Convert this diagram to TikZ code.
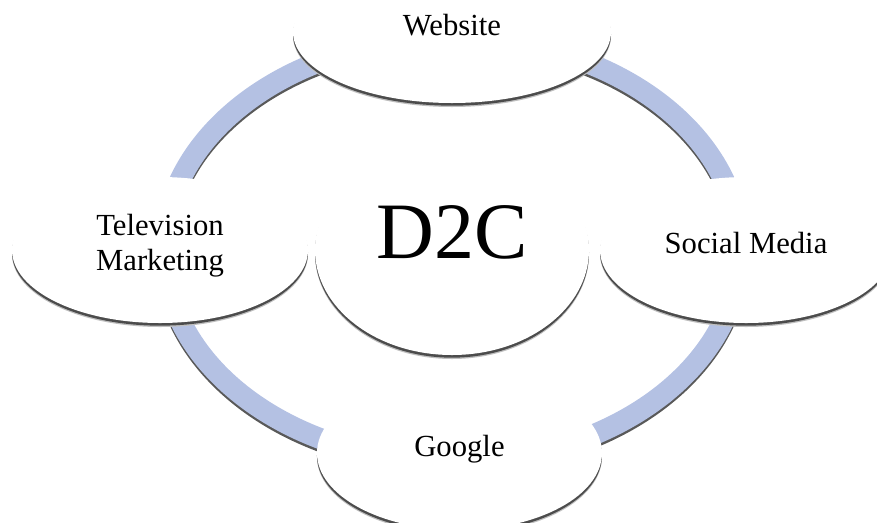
\documentclass[tikz,border=0pt]{standalone}
\usepackage{fontspec}
\setmainfont{Liberation Serif}
\usepackage{xcolor}
\usepackage{tikz}
\usetikzlibrary{positioning,shapes.geometric,shadows}

\definecolor{ringblue}{RGB}{180,193,227}

\tikzset{
  bubble/.style={ellipse, fill=white, inner sep=0pt,
    drop shadow={shadow xshift=0pt, shadow yshift=-3pt, fill=black!25, opacity=1},
    drop shadow={shadow xshift=0pt, shadow yshift=-2pt, fill=black!70, opacity=1}},
  lbl/.style={font=\fontsize{23}{26.25}\selectfont, align=center},
  ring/.style={line width=15.75pt, draw=ringblue},
  ringshadow/.style={line width=15.75pt, draw=black!65}
}

\begin{document}
\begin{tikzpicture}[x=0.75pt,y=-0.75pt]
    \useasboundingbox (0,0) rectangle (877,522);
    \coordinate (hub) at (452,250);
    % ring behind the bubbles
    \draw[ringshadow] ([yshift=-2pt]hub) ellipse [x radius=216pt, y radius=159pt];
    \draw[ring] (hub) ellipse [x radius=216pt, y radius=159pt];
    % bubbles
    \node[bubble, minimum width=205.5pt, minimum height=157.5pt,
      label={[font=\fontsize{60}{60}\selectfont, yshift=13pt]center:D2C}] (d2c) at (hub) {};
    \node[bubble, above=163.5pt of hub, anchor=center, minimum width=238.5pt, minimum height=106.5pt,
      label={[lbl, yshift=5pt]center:Website}] (web) {};
    \node[bubble, left=219pt of hub, anchor=center, minimum width=222pt, minimum height=109.5pt,
      label={[lbl, yshift=3pt]center:Television\\Marketing}] (tv) {};
    \node[bubble, right=220.5pt of hub, anchor=center, minimum width=219pt, minimum height=109.5pt,
      label={[lbl, yshift=5.5pt]center:Social Media}] (social) {};
    \node[bubble, below=152.25pt of hub, anchor=center, xshift=5.6pt, minimum width=213.75pt, minimum height=115.5pt,
      label={[lbl, yshift=3pt]center:Google}] (google) {};
\end{tikzpicture}
\end{document}
